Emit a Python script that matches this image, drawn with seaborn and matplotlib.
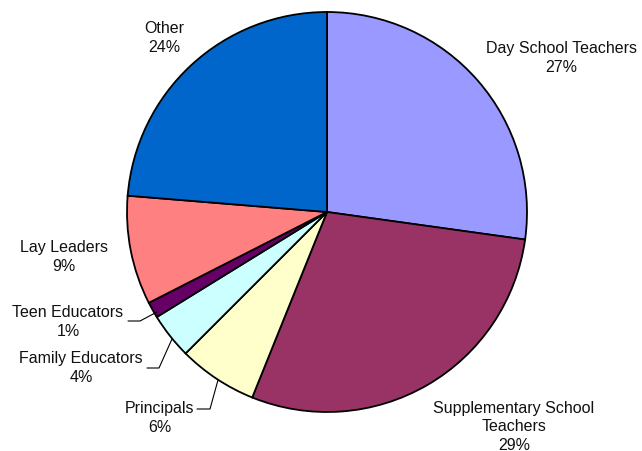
import matplotlib
matplotlib.use("Agg")
import matplotlib.pyplot as plt
import seaborn as sns

# Shares of respondents, clockwise from 12 o'clock
categories = ["Day School Teachers", "Supplementary School Teachers", "Principals",
              "Family Educators", "Teen Educators", "Lay Leaders", "Other"]
shares = [27.2, 28.9, 6.4, 3.7, 1.3, 8.8, 23.7]
pct_labels = ["27%", "29%", "6%", "4%", "1%", "9%", "24%"]
colors = ["#9999FF", "#993366", "#FFFFCC", "#CCFFFF", "#660066", "#FF8080", "#0066CC"]

sns.set_style("white")
plt.rcParams["font.family"] = ["Liberation Sans", "DejaVu Sans"]

W, H = 642, 452
fig = plt.figure(figsize=(W / 100, H / 100), dpi=100)
ax = fig.add_axes([0, 0, 1, 1])

# pie centre (327, 213) px from top-left, radius 200 px
cx, cy, R = 327, 213, 200
ax.pie(shares, colors=colors, startangle=90, counterclock=False, radius=1.0,
       wedgeprops=dict(edgecolor="black", linewidth=1.3))
ax.set_xlim(-cx / R, (W - cx) / R)
ax.set_ylim(-(H - cy) / R, cy / R)
ax.set_aspect("auto")
ax.axis("off")


def px(x, y):
    return (x - cx) / R, (cy - y) / R


# label centres in pixel coordinates
label_pos = {
    "Day School Teachers": (561, 58),
    "Supplementary School Teachers": (514, 427),
    "Principals": (160, 418),
    "Family Educators": (81, 368),
    "Teen Educators": (68, 322),
    "Lay Leaders": (64, 257),
    "Other": (164, 38),
}
display = {"Supplementary School Teachers": "Supplementary School\nTeachers"}

for name, pct in zip(categories, pct_labels):
    x, y = px(*label_pos[name])
    ax.text(x, y, display.get(name, name) + "\n" + pct, ha="center", va="center",
            fontsize=11.5, linespacing=1.3, color="#111111")

# leader lines for the small slices
leaders = [
    [(197, 410), (210, 410), (218, 381)],
    [(147, 369), (159, 369), (172, 340)],
    [(128, 322), (140, 322), (157, 313)],
]
for pts in leaders:
    xs, ys = zip(*[px(a, b) for a, b in pts])
    ax.plot(xs, ys, color="black", linewidth=0.8)

fig.savefig("out.png", dpi=100)
